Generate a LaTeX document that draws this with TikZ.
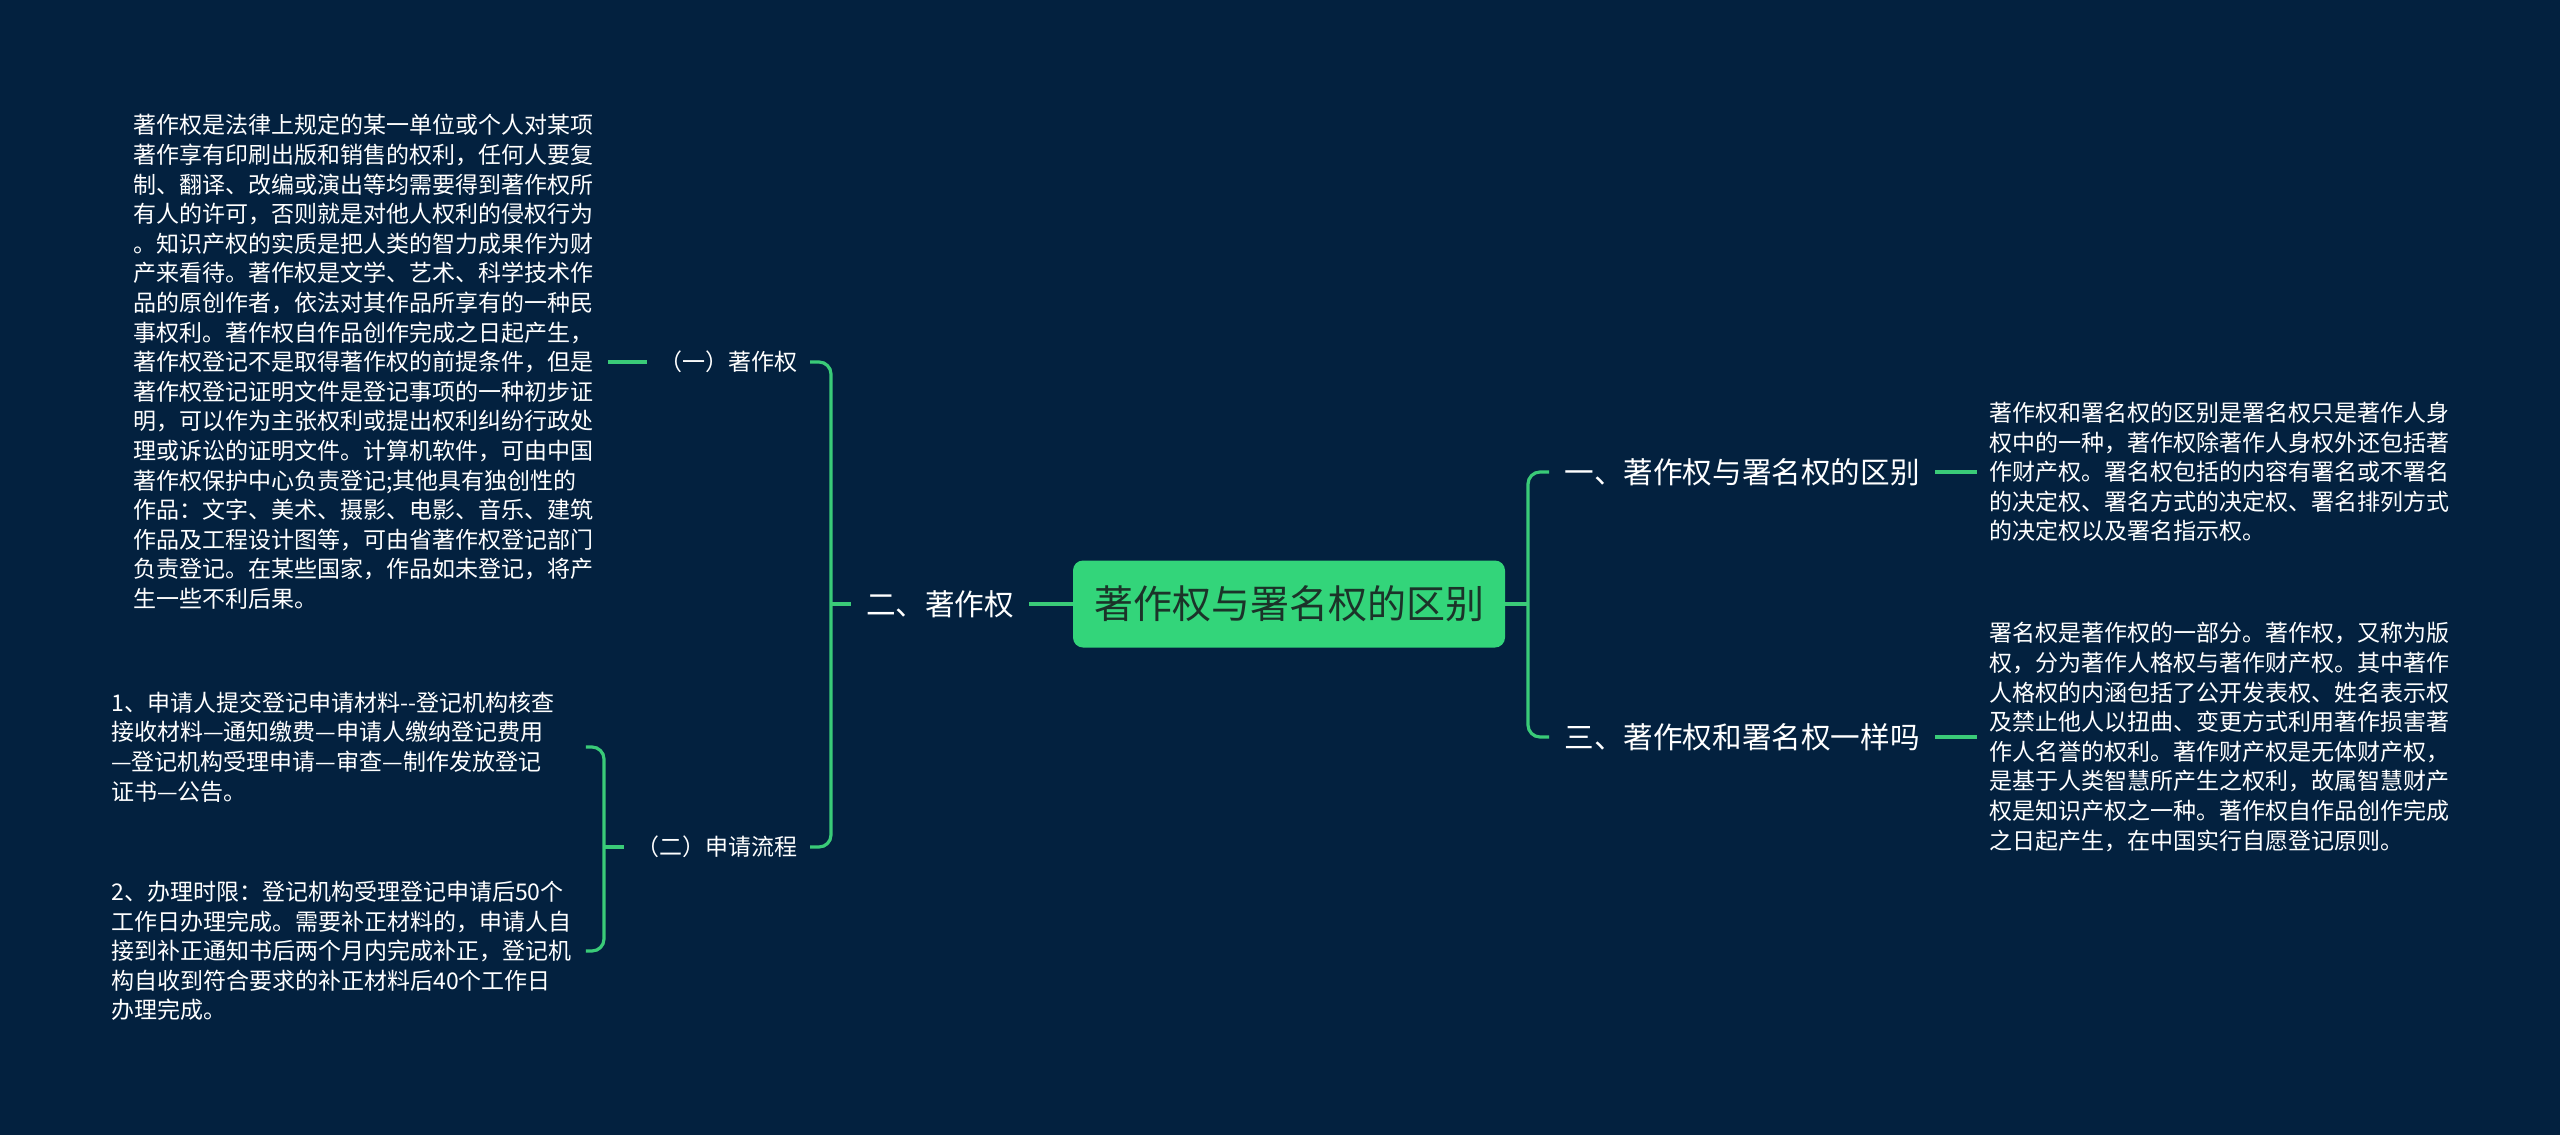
\documentclass[tikz,border=0pt]{standalone}
\usepackage{fontspec}
\setmainfont{Noto Sans CJK SC}
\definecolor{bg}{HTML}{03213F}
\definecolor{lnk}{HTML}{3ACB78}
\definecolor{rootfill}{HTML}{33D57A}
\definecolor{roottext}{HTML}{1B3329}
\begin{document}
\begin{tikzpicture}[x=0.5pt,y=-0.5pt,
  link/.style={draw=lnk, line width=1.6pt, rounded corners=6pt},
  rootbox/.style={fill=rootfill, rounded corners=5pt, text=roottext, minimum width=216pt, minimum height=43.5pt, inner sep=0pt, font=\fontsize{19.5pt}{23pt}\selectfont},
  lvone/.style={text=white, inner xsep=7.5pt, inner ysep=3pt, font=\fontsize{14.8pt}{18pt}\selectfont},
  lvtwo/.style={text=white, inner xsep=6pt, inner ysep=3pt, font=\fontsize{11.5pt}{14pt}\selectfont},
  body/.style={text=white, inner xsep=6pt, inner ysep=3pt, align=left, text width=231pt, font=\fontsize{11.5pt}{14.8pt}\selectfont}]
\useasboundingbox[fill=bg] (0,0) rectangle (2560,1135);

\node[rootbox] (root) at (1289,604) {著作权与署名权的区别};
\node[lvone] (n1) at (1742,472) {一、著作权与署名权的区别};
\node[lvone] (n3) at (1742,737) {三、著作权和署名权一样吗};
\node[lvone] (n2) at (940,604) {二、著作权};
\node[lvtwo, anchor=east] (a1) at (810,362) {（一）著作权};
\node[lvtwo, anchor=east] (a2) at (810,847) {（二）申请流程};

\node[body, anchor=west] (l1) at (121,362) {著作权是法律上规定的某一单位或个人对某项\\著作享有印刷出版和销售的权利，任何人要复\\制、翻译、改编或演出等均需要得到著作权所\\有人的许可，否则就是对他人权利的侵权行为\\。知识产权的实质是把人类的智力成果作为财\\产来看待。著作权是文学、艺术、科学技术作\\品的原创作者，依法对其作品所享有的一种民\\事权利。著作权自作品创作完成之日起产生，\\著作权登记不是取得著作权的前提条件，但是\\著作权登记证明文件是登记事项的一种初步证\\明，可以作为主张权利或提出权利纠纷行政处\\理或诉讼的证明文件。计算机软件，可由中国\\著作权保护中心负责登记;其他具有独创性的\\作品：文字、美术、摄影、电影、音乐、建筑\\作品及工程设计图等，可由省著作权登记部门\\负责登记。在某些国家，作品如未登记，将产\\生一些不利后果。};

\node[body, anchor=west] (l21) at (99,747) {1、申请人提交登记申请材料{-}{-}登记机构核查\\接收材料—通知缴费—申请人缴纳登记费用\\—登记机构受理申请—审查—制作发放登记\\证书—公告。};

\node[body, anchor=west] (l22) at (99,951) {2、办理时限：登记机构受理登记申请后50个\\工作日办理完成。需要补正材料的，申请人自\\接到补正通知书后两个月内完成补正，登记机\\构自收到符合要求的补正材料后40个工作日\\办理完成。};

\node[body, anchor=west] (r1) at (1977,472) {著作权和署名权的区别是署名权只是著作人身\\权中的一种，著作权除著作人身权外还包括著\\作财产权。署名权包括的内容有署名或不署名\\的决定权、署名方式的决定权、署名排列方式\\的决定权以及署名指示权。};

\node[body, anchor=west] (r2) at (1977,737) {署名权是著作权的一部分。著作权，又称为版\\权，分为著作人格权与著作财产权。其中著作\\人格权的内涵包括了公开发表权、姓名表示权\\及禁止他人以扭曲、变更方式利用著作损害著\\作人名誉的权利。著作财产权是无体财产权，\\是基于人类智慧所产生之权利，故属智慧财产\\权是知识产权之一种。著作权自作品创作完成\\之日起产生，在中国实行自愿登记原则。};

\coordinate (rb) at (1528,604);
\coordinate (lb) at (831,604);
\coordinate (lb2) at (604,847);

\draw[link] (root.east) -- (rb);
\draw[link] (n1.west) -| (rb) |- (n3.west);
\draw[link] (root.west) -- (n2.east);
\draw[link] (n2.west) -- (lb);
\draw[link] (a1.east) -| (lb) |- (a2.east);
\draw[link] (l1.east) -- (a1.west);
\draw[link] (a2.west) -- (lb2);
\draw[link] (l21.east) -| (lb2) |- (l22.east);
\draw[link] (n1.east) -- (r1.west);
\draw[link] (n3.east) -- (r2.west);
\end{tikzpicture}
\end{document}
